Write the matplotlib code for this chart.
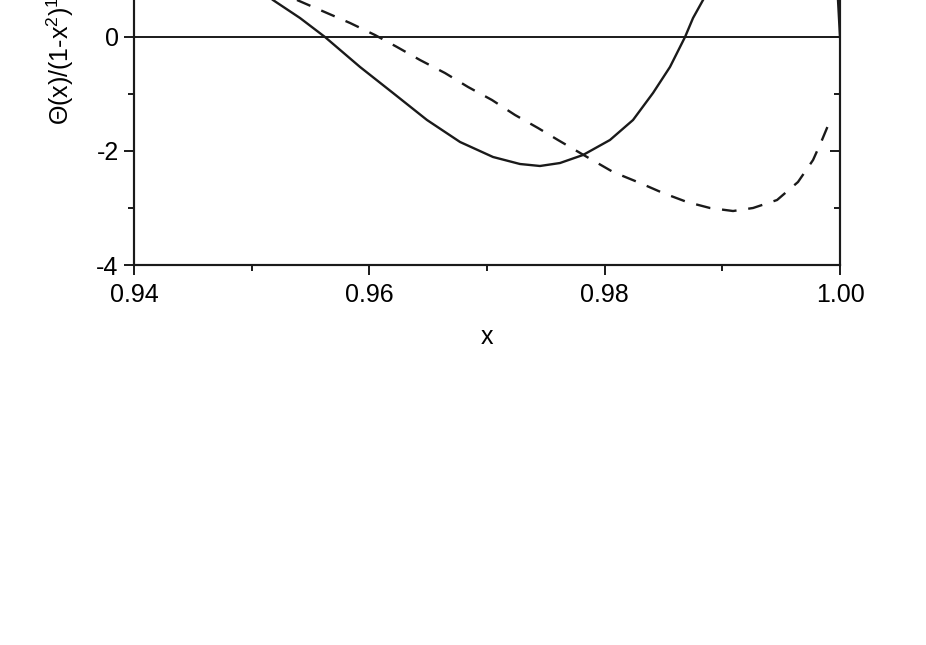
import numpy as np
import matplotlib
matplotlib.use("Agg")
import matplotlib.pyplot as plt
from matplotlib.ticker import MultipleLocator, FormatStrFormatter

plt.rcParams['font.family'] = ['Liberation Sans', 'DejaVu Sans']
plt.rcParams['mathtext.fontset'] = 'custom'
plt.rcParams['mathtext.rm'] = 'Liberation Sans'
plt.rcParams['mathtext.it'] = 'Liberation Sans:italic'

# solid curve (NaN splits off the branch that comes back down at x = 1)
solid_x = [0.95181, 0.95411, 0.95623, 0.95921, 0.96201, 0.96490, 0.96771, 0.97051,
           0.97280, 0.97450, 0.97620, 0.97816, 0.98045, 0.98241, 0.98411, 0.98555,
           0.98683, 0.98751, 0.98836, np.nan, 0.99983, 1.00000]
solid_y = [0.649, 0.333, 0.000, -0.526, -0.982, -1.456, -1.842, -2.105,
           -2.228, -2.263, -2.211, -2.070, -1.807, -1.456, -0.982, -0.526,
           0.000, 0.333, 0.649, np.nan, 0.649, 0.000]

# dashed curve
dash_x = [0.95385, 0.95640, 0.95836, 0.96048, 0.96235, 0.96431, 0.96643, 0.96839,
          0.97042, 0.97238, 0.97433, 0.97603, 0.97850, 0.98071, 0.98300, 0.98496,
          0.98700, 0.98895, 0.99091, 0.99261, 0.99465, 0.99643, 0.99771, 0.99847,
          0.99907]
dash_y = [0.649, 0.421, 0.246, 0.035, -0.175, -0.404, -0.632, -0.877,
          -1.105, -1.368, -1.596, -1.807, -2.105, -2.368, -2.561, -2.737,
          -2.895, -3.000, -3.053, -3.000, -2.860, -2.544, -2.158, -1.807,
          -1.509]

ink = '#1a1a1a'

fig = plt.figure(figsize=(9.26, 6.45), dpi=100)
ax = fig.add_axes([134/926, 1-265/645, 706/926, 285/645])

ax.plot(solid_x, solid_y, color=ink, lw=1.7)
ax.plot(dash_x, dash_y, color=ink, lw=1.7, dashes=(6.2, 5))
ax.axhline(0, color=ink, lw=1.4)

ax.set_xlim(0.94, 1.00)
ax.set_ylim(-4, 1)
ax.xaxis.set_major_locator(MultipleLocator(0.02))
ax.xaxis.set_minor_locator(MultipleLocator(0.01))
ax.yaxis.set_major_locator(MultipleLocator(2))
ax.yaxis.set_minor_locator(MultipleLocator(1))
ax.xaxis.set_major_formatter(FormatStrFormatter('%.2f'))
ax.yaxis.set_major_formatter(FormatStrFormatter('%d'))

for s in ax.spines.values():
    s.set_linewidth(1.5)
    s.set_color(ink)

ax.tick_params(axis='both', which='major', length=7, width=1.4, labelsize=18,
               color=ink, direction='out')
ax.tick_params(axis='both', which='minor', length=4, width=1.4, color=ink,
               direction='out')
ax.tick_params(axis='x', which='major', pad=6)
ax.tick_params(axis='y', which='major', pad=4)

# inward ticks on the right side
ax2 = ax.twinx()
ax2.set_ylim(ax.get_ylim())
ax2.yaxis.set_major_locator(MultipleLocator(2))
ax2.yaxis.set_minor_locator(MultipleLocator(1))
ax2.tick_params(axis='y', which='major', length=7, width=1.4, direction='in',
                labelright=False, color=ink)
ax2.tick_params(axis='y', which='minor', length=4, width=1.4, direction='in', color=ink)
for s in ax2.spines.values():
    s.set_linewidth(1.5)
    s.set_color(ink)

ax.set_xlabel('x', fontsize=18, labelpad=13)
fig.text(76/926, 1-125/645, r'Θ(x)/(1-x$^{2}$)$^{1/2}$', rotation=90,
         ha='right', va='bottom', fontsize=18)

fig.savefig('out.png', dpi=100)
